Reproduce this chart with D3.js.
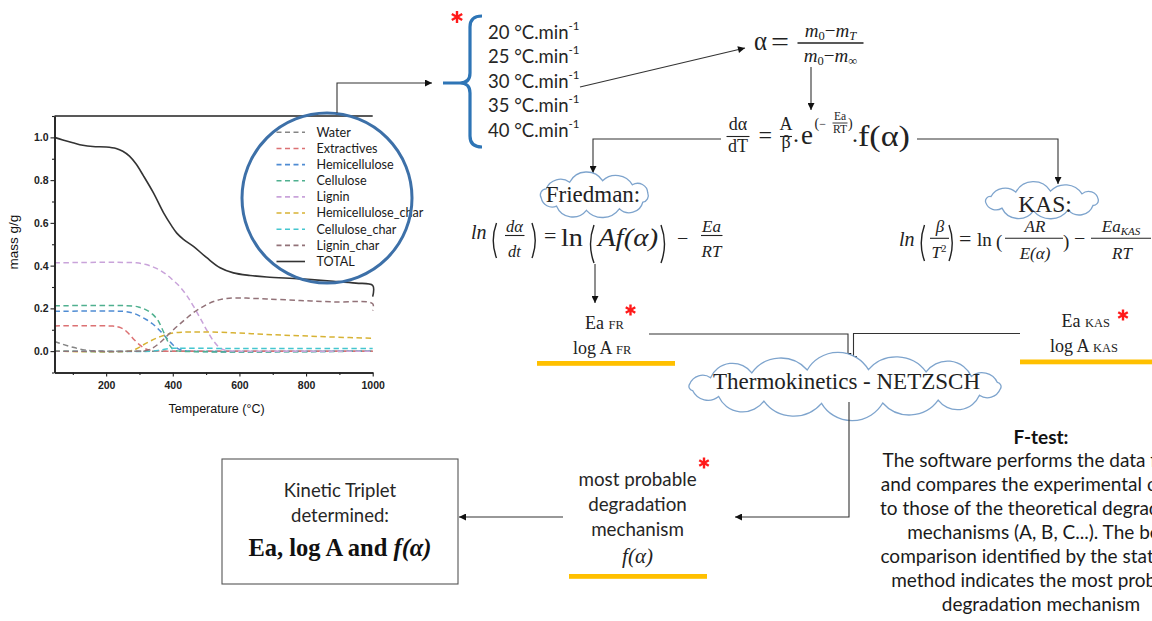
<!DOCTYPE html>
<html><head><meta charset="utf-8">
<script src="https://cdn.jsdelivr.net/npm/d3@7"></script>
<style>body{margin:0;background:#fff}svg{display:block}</style>
</head><body>
<svg id="c" width="1152" height="621"></svg>
<script>
// ---------------- DATA ----------------
const xTickValues = [200, 400, 600, 800, 1000];
const xMinorTicks = [100, 300, 500, 700, 900];
const yTickValues = [0.0, 0.2, 0.4, 0.6, 0.8, 1.0];
const yMinorTicks = [-0.1, 0.1, 0.3, 0.5, 0.7, 0.9, 1.1];
const legendLabels = ["Water","Extractives","Hemicellulose","Cellulose","Lignin","Hemicellulose_char","Cellulose_char","Lignin_char","TOTAL"];

const waterPts = [[45,0.045],[70,0.032],[100,0.018],[130,0.007],[160,0.002],[200,0],[1000,0]];
const extractivesPts = [[45,0.118],[220,0.117],[240,0.112],[255,0.1],[270,0.078],[285,0.052],[300,0.03],[315,0.013],[330,0.005],[350,0.001],[370,0],[1000,0]];
const hemicellulosePts = [[45,0.186],[260,0.185],[280,0.178],[300,0.165],[320,0.148],[340,0.127],[360,0.098],[380,0.064],[400,0.03],[415,0.012],[430,0.004],[450,0],[1000,0]];
const cellulosePts = [[45,0.212],[280,0.211],[300,0.205],[320,0.193],[340,0.172],[355,0.145],[365,0.115],[375,0.08],[385,0.045],[395,0.018],[405,0.005],[420,0],[1000,0]];
const ligninPts = [[45,0.413],[290,0.413],[320,0.405],[342,0.393],[362,0.378],[382,0.357],[402,0.33],[422,0.3],[442,0.26],[462,0.21],[482,0.155],[502,0.098],[522,0.048],[542,0.014],[562,0.002],[590,0],[1000,0]];
const hemiCharPts = [[45,0],[270,0],[290,0.01],[310,0.028],[330,0.045],[350,0.06],[370,0.072],[390,0.081],[410,0.087],[430,0.089],[480,0.09],[580,0.086],[680,0.078],[780,0.072],[880,0.066],[1000,0.06]];
const celluloseCharPts = [[45,0],[340,0],[360,0.004],[380,0.01],[400,0.013],[600,0.012],[1000,0.012]];
const ligninCharPts = [[45,0],[300,0],[320,0.003],[340,0.015],[362,0.04],[382,0.07],[402,0.1],[422,0.128],[442,0.155],[462,0.18],[482,0.2],[502,0.218],[522,0.232],[542,0.241],[562,0.246],[590,0.249],[620,0.248],[682,0.244],[782,0.237],[882,0.23],[1000,0.222],[1000,0.19]];
const totalPts = [[45,1.0],[70,0.988],[100,0.975],[130,0.963],[160,0.957],[200,0.955],[230,0.948],[250,0.935],[270,0.912],[290,0.875],[312,0.82],[342,0.74],[372,0.648],[397,0.585],[412,0.552],[432,0.523],[462,0.49],[502,0.437],[542,0.39],[582,0.366],[632,0.354],[682,0.347],[782,0.338],[882,0.327],[950,0.318],[1000,0.307],[1000,0.255]];

const heatingRates = ["20","25","30","35","40"];
const fTestLines = ["The software performs the data fitting","and compares the experimental curves","to those of the theoretical degradation","mechanisms (A, B, C...). The best","comparison identified by the statistical","method indicates the most probable","degradation mechanism"];
const mechLines = ["most probable","degradation","mechanism"];
const tripletLines = ["Kinetic Triplet","determined:"];

// ---------------- STYLES ----------------
const seriesColors = ["#858585","#dc7173","#4f8cd3","#4fb08f","#c9a3da","#d7b234","#45c6cf","#927278","#333333"];
const SANS = "Lato, 'Open Sans', sans-serif";
const SERIF = "'Liberation Serif','Times New Roman',serif";
const ARIAL = "'Liberation Sans', Arial, sans-serif";
const INK = "#222";

const svg = d3.select("#c");
svg.append("rect").attr("width",1152).attr("height",621).attr("fill","#fff");
const defs = svg.append("defs");
defs.append("marker").attr("id","arr").attr("viewBox","0 0 10 10").attr("refX",10).attr("refY",5)
  .attr("markerWidth",8).attr("markerHeight",7).attr("markerUnits","userSpaceOnUse").attr("orient","auto")
  .append("path").attr("d","M0,0L10,5L0,10Z").attr("fill","#111");

function txt(parent, x, y, s, o = {}) {
  const t = parent.append("text").attr("x", x).attr("y", y)
    .attr("font-family", o.ff || SANS).attr("font-size", o.fs || 18)
    .attr("fill", o.fill || INK).attr("text-anchor", o.anchor || "start");
  if (o.fw) t.attr("font-weight", o.fw);
  if (o.fst) t.attr("font-style", o.fst);
  if (o.len) t.attr("textLength", o.len).attr("lengthAdjust", "spacingAndGlyphs");
  if (s !== null) t.text(s);
  return t;
}
function conn(points, arrow = true) {
  const p = svg.append("path").attr("d", d3.line()(points)).attr("fill","none")
    .attr("stroke","#333").attr("stroke-width",1.1);
  if (arrow) p.attr("marker-end","url(#arr)");
  return p;
}
function star(cx, cy, r) {
  const g = svg.append("g").attr("stroke","#ff1a1a").attr("stroke-width",2.4).attr("stroke-linecap","butt");
  [90, 30, 150].forEach(a => {
    const rad = a * Math.PI / 180;
    g.append("line").attr("x1", cx - r*Math.cos(rad)).attr("y1", cy - r*Math.sin(rad))
      .attr("x2", cx + r*Math.cos(rad)).attr("y2", cy + r*Math.sin(rad));
  });
}
function cloud(cx, cy, rx, ry, n) {
  const pts = d3.range(n).map(i => {
    const a = -Math.PI/2 + 2*Math.PI*i/n + 0.15;
    return [cx + rx*Math.cos(a), cy + ry*Math.sin(a)];
  });
  let d = "M" + pts[0];
  pts.forEach((p, i) => {
    const q = pts[(i+1) % n];
    const ch = Math.hypot(q[0]-p[0], q[1]-p[1]);
    const r = ch * (i % 2 ? 0.58 : 0.64);
    d += `A${r},${r} 0 0 1 ${q[0]},${q[1]}`;
  });
  svg.append("path").attr("d", d + "Z").attr("fill","#fff").attr("stroke","#7ea4cd").attr("stroke-width",1.3);
}
function paren(x, y1, y2, w, open) {
  const xm = open ? x : x + w, xe = open ? x + w : x;
  svg.append("path").attr("d", `M${xe},${y1}Q${xm},${(y1+y2)/2} ${xe},${y2}`)
    .attr("fill","none").attr("stroke", INK).attr("stroke-width",1.4);
}
function bar(x1, x2, yy, w = 1.1) {
  svg.append("line").attr("x1",x1).attr("x2",x2).attr("y1",yy).attr("y2",yy).attr("stroke",INK).attr("stroke-width",w);
}

// ---------------- CHART ----------------
const x = d3.scaleLinear().domain([45, 1000]).range([54.5, 372.7]);
const y = d3.scaleLinear().domain([-0.1, 1.1]).range([372.5, 116]);
const chart = svg.append("g");
const line = d3.line().x(d => x(d[0])).y(d => y(d[1])).curve(d3.curveCatmullRom.alpha(0.5));
const allSeries = [waterPts, extractivesPts, hemicellulosePts, cellulosePts, ligninPts, hemiCharPts, celluloseCharPts, ligninCharPts, totalPts];
allSeries.forEach((pts, i) => {
  const p = chart.append("path").datum(pts).attr("d", line).attr("fill","none")
    .attr("stroke", seriesColors[i]).attr("stroke-width", i === 8 ? 1.6 : 1.5);
  if (i !== 8) p.attr("stroke-dasharray","5.5,3.5");
});

function styleAxis(g) {
  g.select(".domain").attr("stroke","#222").attr("stroke-width",1.6);
  g.selectAll(".tick line").attr("stroke","#222").attr("stroke-width",1.1);
  g.selectAll("text").attr("font-family", ARIAL).attr("font-size", 10.5).attr("font-weight","bold").attr("fill","#222");
}
chart.append("g").attr("transform",`translate(0,${y(-0.1)})`)
  .call(d3.axisBottom(x).tickValues(xMinorTicks).tickSize(2.5).tickSizeOuter(0).tickFormat(""))
  .call(styleAxis);
chart.append("g").attr("transform",`translate(0,${y(-0.1)})`)
  .call(d3.axisBottom(x).tickValues(xTickValues).tickSize(4).tickSizeOuter(0).tickPadding(5).tickFormat(d3.format("d")))
  .call(styleAxis);
chart.append("g").attr("transform",`translate(${x(45)},0)`)
  .call(d3.axisLeft(y).tickValues(yMinorTicks).tickSize(2.5).tickSizeOuter(0).tickFormat(""))
  .call(styleAxis);
chart.append("g").attr("transform",`translate(${x(45)},0)`)
  .call(d3.axisLeft(y).tickValues(yTickValues).tickSize(4).tickSizeOuter(0).tickPadding(2).tickFormat(d3.format(".1f")))
  .call(styleAxis);
chart.append("line").attr("x1", x(45)).attr("x2", x(1000)).attr("y1", y(1.1)).attr("y2", y(1.1))
  .attr("stroke","#222").attr("stroke-width",1.4);
txt(chart, (x(45)+x(1000))/2 + 3, 412.5, "Temperature (°C)", {ff: ARIAL, fs: 12.5, anchor: "middle", fill: "#111"});
txt(chart, 0, 0, "mass g/g", {ff: ARIAL, fs: 13.5, anchor: "middle", fill: "#111"}).attr("transform","translate(17.5,242) rotate(-90)");

// legend inside circle
legendLabels.forEach((lab, i) => {
  const cy = 132.3 + i * 16.15;
  const l = chart.append("line").attr("x1",276.5).attr("x2",305).attr("y1",cy).attr("y2",cy)
    .attr("stroke", seriesColors[i]).attr("stroke-width", 1.6);
  if (i !== 8) l.attr("stroke-dasharray","5,3.5");
  txt(chart, 316.5, cy + 4.3, lab, {fs: 12.6, fill: "#1a1a1a"});
});
svg.append("circle").attr("cx",327).attr("cy",198).attr("r",85).attr("fill","none")
  .attr("stroke","#3d70a8").attr("stroke-width",3);

// ---------------- FLOW ----------------
conn([[337,113],[337,83],[432,83]]);
svg.append("path").attr("d","M482,16Q470,16 470,27L470,73Q470,83 460,83L443,83M460,83Q470,83 470,93L470,136Q470,147 482,147")
  .attr("fill","none").attr("stroke","#2e75b6").attr("stroke-width",3.2);
star(457, 17, 6);
heatingRates.forEach((r, i) => {
  const t = txt(svg, 488, 39 + i * 24.4, null, {fs: 18.5, fill: "#262626"});
  t.append("tspan").text(`${r} °C.min`);
  t.append("tspan").attr("dy", -9).attr("font-size", 11.5).text("-1");
});
conn([[580,87],[745,48]]);

// alpha equation
txt(svg, 754, 50, "α", {ff: SERIF, fs: 27, len: 13});
txt(svg, 771, 51, "=", {ff: SERIF, fs: 28, len: 18});
bar(797.5, 863.5, 43, 1.3);
function mEq(yb, last) {
  const t = txt(svg, 830.5, yb, null, {ff: SERIF, fs: 19, anchor: "middle"});
  t.append("tspan").attr("font-style","italic").text("m");
  t.append("tspan").attr("font-size",12.5).attr("dy",3).text("0");
  t.append("tspan").attr("dy",-3).text("−");
  t.append("tspan").attr("font-style","italic").text("m");
  const s = t.append("tspan").attr("font-size",12.5).attr("dy",3).text(last);
  if (last === "T") s.attr("font-style","italic");
}
mEq(37, "T");
mEq(62, "∞");
conn([[811,67],[811,110]]);

// main rate equation
conn([[721,139],[593,139],[593,173]]);
txt(svg, 738, 130, "dα", {ff: SERIF, fs: 18, anchor: "middle"});
bar(726.5, 749.5, 136.5);
txt(svg, 738, 152, "dT", {ff: SERIF, fs: 18, anchor: "middle"});
txt(svg, 758.5, 143, "=", {ff: SERIF, fs: 24});
txt(svg, 786, 130, "A", {ff: SERIF, fs: 18, anchor: "middle"});
bar(780, 792, 136.5);
txt(svg, 786, 148, "β", {ff: SERIF, fs: 18, anchor: "middle"});
txt(svg, 793, 142, ".", {ff: SERIF, fs: 24});
txt(svg, 801, 144, "e", {ff: SERIF, fs: 27});
const ex = txt(svg, 814.5, 128, null, {ff: SERIF, fs: 14});
ex.append("tspan").text("(");
ex.append("tspan").attr("font-size", 12).text("−");
txt(svg, 840, 119.5, "Ea", {ff: SERIF, fs: 11.5, anchor: "middle"});
bar(832.5, 847.5, 123, 0.9);
txt(svg, 840, 133, "RT", {ff: SERIF, fs: 11.5, anchor: "middle"});
txt(svg, 848, 128, ")", {ff: SERIF, fs: 14});
txt(svg, 852, 142, ".", {ff: SERIF, fs: 24});
txt(svg, 858, 146, "f(α)", {ff: SERIF, fs: 30, len: 52});
conn([[917,139],[1058,139],[1058,184]]);

// Friedman
cloud(594.5, 195.5, 54, 15, 10);
txt(svg, 593, 202, "Friedman:", {ff: SERIF, fs: 23, anchor: "middle"});
txt(svg, 471, 239, "ln", {ff: SERIF, fs: 20, fst: "italic"});
paren(490, 223, 258, 6.5, true);
txt(svg, 514.5, 231.5, "dα", {ff: SERIF, fs: 16.5, fst: "italic", anchor: "middle"});
bar(505, 524.5, 235.5);
txt(svg, 514.5, 256.5, "dt", {ff: SERIF, fs: 16.5, fst: "italic", anchor: "middle"});
paren(532, 223, 258, 6.5, false);
txt(svg, 544, 243, "=", {ff: SERIF, fs: 22});
txt(svg, 561, 246, "ln", {ff: SERIF, fs: 26, len: 22});
paren(587, 225, 263, 7, true);
txt(svg, 598, 246, "Af(α)", {ff: SERIF, fs: 25, fst: "italic", len: 60});
paren(661, 225, 263, 7, false);
txt(svg, 677, 245, "−", {ff: SERIF, fs: 20});
txt(svg, 711.5, 231.5, "Ea", {ff: SERIF, fs: 17, fst: "italic", anchor: "middle"});
bar(701, 722.5, 235.5);
txt(svg, 711.5, 256.5, "RT", {ff: SERIF, fs: 17, fst: "italic", anchor: "middle"});
conn([[595,264],[595,303]]);

// KAS
cloud(1042, 201, 57, 10, 10);
txt(svg, 1045, 212, "KAS:", {ff: SERIF, fs: 23.5, anchor: "middle"});
txt(svg, 899, 246, "ln", {ff: SERIF, fs: 20, fst: "italic"});
paren(918, 225, 261, 6.5, true);
txt(svg, 940, 232, "β", {ff: SERIF, fs: 17, fst: "italic", anchor: "middle"});
bar(930, 949, 238.3);
const t2 = txt(svg, 939, 258, null, {ff: SERIF, fs: 17, anchor: "middle"});
t2.append("tspan").attr("font-style","italic").text("T");
t2.append("tspan").attr("font-size",11).attr("dy",-6).text("2");
paren(949, 225, 261, 6.5, false);
txt(svg, 959, 246, "=", {ff: SERIF, fs: 22});
txt(svg, 977, 246, "ln", {ff: SERIF, fs: 19});
txt(svg, 996, 248, "(", {ff: SERIF, fs: 19});
txt(svg, 1035, 231.5, "AR", {ff: SERIF, fs: 17, fst: "italic", anchor: "middle"});
bar(1005, 1063, 238.3);
txt(svg, 1035, 258.5, "E(α)", {ff: SERIF, fs: 17, fst: "italic", anchor: "middle"});
txt(svg, 1063, 248, ")", {ff: SERIF, fs: 19});
txt(svg, 1074, 245, "−", {ff: SERIF, fs: 20});
const eak = txt(svg, 1121, 231.5, null, {ff: SERIF, fs: 17, fst: "italic", anchor: "middle"});
eak.append("tspan").text("Ea");
eak.append("tspan").attr("font-size",11).attr("dy",3).text("KAS");
bar(1091, 1151, 238.3);
txt(svg, 1122, 258.5, "RT", {ff: SERIF, fs: 17, fst: "italic", anchor: "middle"});

// Ea FR block
const efr = txt(svg, 585, 328.5, null, {ff: SERIF, fs: 18});
efr.append("tspan").text("Ea ");
efr.append("tspan").attr("font-size",12.5).text("FR");
star(630.5, 310, 5.5);
const lfr = txt(svg, 573, 353.5, null, {ff: SERIF, fs: 18});
lfr.append("tspan").text("log A ");
lfr.append("tspan").attr("font-size",12.5).text("FR");
svg.append("rect").attr("x",537).attr("y",361).attr("width",138).attr("height",4.8).attr("fill","#ffc000");

// Ea KAS block
const eka = txt(svg, 1061.5, 327, null, {ff: SERIF, fs: 18});
eka.append("tspan").text("Ea ");
eka.append("tspan").attr("font-size",12.5).text("KAS");
star(1123, 315, 5.5);
const lka = txt(svg, 1050, 352, null, {ff: SERIF, fs: 18});
lka.append("tspan").text("log A ");
lka.append("tspan").attr("font-size",12.5).text("KAS");
svg.append("rect").attr("x",1020).attr("y",359.5).attr("width",132).attr("height",4.8).attr("fill","#ffc000");

// connectors to Thermokinetics
conn([[649,334],[848,334],[848,360]]);
conn([[1020,333.5],[853.5,333.5],[853.5,363]]);
cloud(845, 386.5, 157, 17, 16);
txt(svg, 846.5, 388.5, "Thermokinetics - NETZSCH", {ff: SERIF, fs: 23, anchor: "middle"});

// down to mechanism
conn([[849,402],[849,517],[735,517]]);
mechLines.forEach((s, i) => txt(svg, 637.5, 486 + i * 25, s, {fs: 18.8, anchor: "middle", fill: "#262626"}));
star(704, 463, 5.5);
txt(svg, 637.5, 563, "f(α)", {ff: SERIF, fs: 21, fst: "italic", anchor: "middle"});
svg.append("rect").attr("x",569).attr("y",574).attr("width",138).attr("height",4.8).attr("fill","#ffc000");
conn([[563,517],[459,517]]);

// Kinetic triplet box
svg.append("rect").attr("x",222).attr("y",459).attr("width",236).attr("height",125)
  .attr("fill","none").attr("stroke","#555").attr("stroke-width",1.1);
tripletLines.forEach((s, i) => txt(svg, 340, 497 + i * 25, s, {fs: 18.5, anchor: "middle", fill: "#262626"}));
const kt = txt(svg, 340, 556, null, {ff: SERIF, fs: 24.5, fw: "bold", anchor: "middle", fill: "#111"});
kt.append("tspan").text("Ea, log A and ");
kt.append("tspan").attr("font-style","italic").text("f(α)");

// F-test (the reference crops these lines at the right page edge)
txt(svg, 1041, 444, "F-test:", {fs: 19, fw: "bold", anchor: "middle", fill: "#111"});
fTestLines.forEach((s, i) => txt(svg, 1041, 467 + i * 24, s, {fs: 19, anchor: "middle", fill: "#1a1a1a"}));
</script>
</body></html>
